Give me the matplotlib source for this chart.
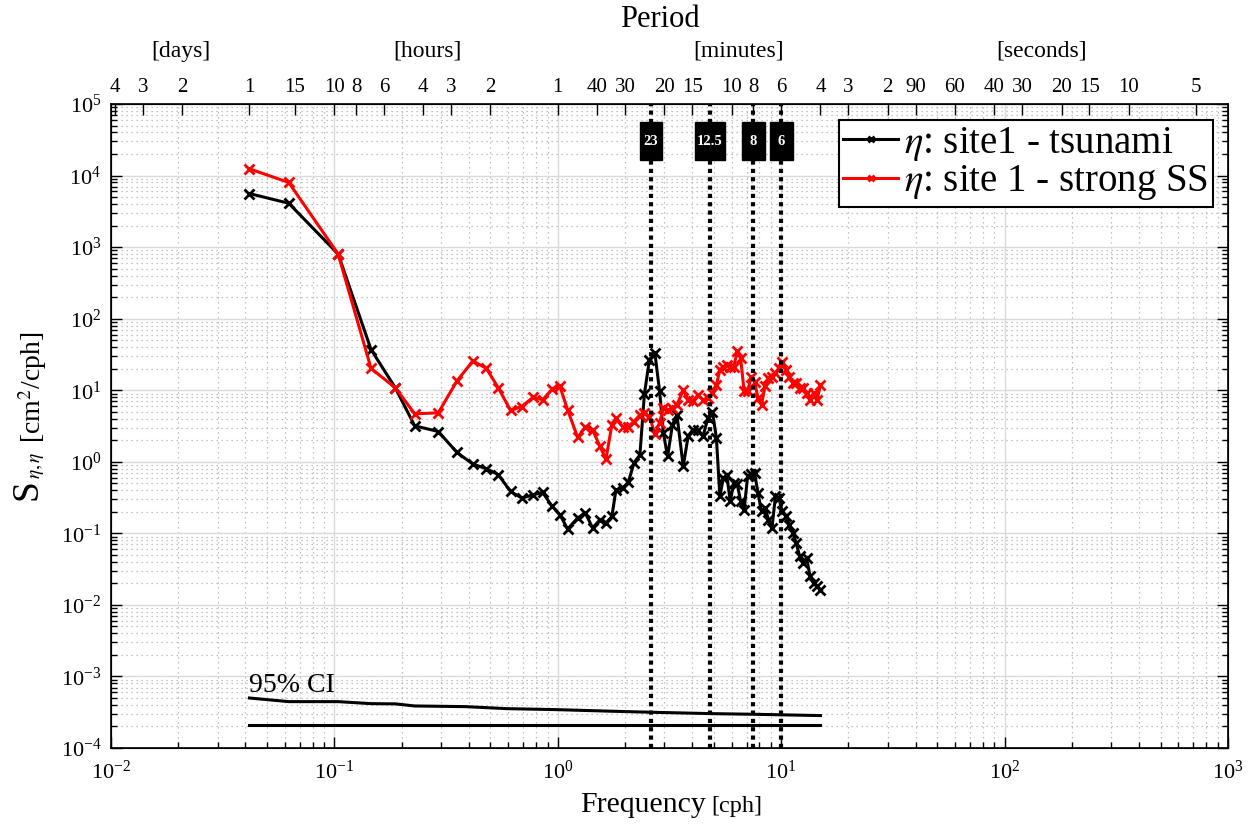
import matplotlib
matplotlib.use("Agg")
import matplotlib.pyplot as plt
import matplotlib.transforms as mtransforms
from matplotlib.patches import Rectangle
from matplotlib.ticker import LogLocator, NullLocator, NullFormatter

plt.rcParams["font.family"] = ["Liberation Serif", "DejaVu Serif"]
plt.rcParams["mathtext.fontset"] = "stix"

# frequency [cph]
freq = [0.0417, 0.0625, 0.104, 0.146, 0.1875, 0.229, 0.292, 0.354, 0.417, 0.479,
        0.542, 0.615, 0.69, 0.777, 0.856, 0.945, 1.023, 1.107, 1.228, 1.33,
        1.433, 1.545, 1.644, 1.748, 1.822, 1.952, 2.069, 2.194, 2.333, 2.444,
        2.573, 2.723, 2.858, 2.972, 3.104, 3.262, 3.417, 3.646, 3.838, 4.029,
        4.242, 4.467, 4.702, 4.926, 5.133,
        5.32, 5.51, 5.71, 5.92, 6.14, 6.36, 6.59, 6.83, 7.08, 7.34,
        7.61, 7.88, 8.17, 8.47, 8.78, 9.10, 9.43, 9.77, 10.13, 10.50,
        10.88, 11.28, 11.69, 12.11, 12.55, 13.01, 13.48, 13.97, 14.48, 15.0]

# site1 - tsunami
s_tsunami = [5600, 4100, 800, 37, 10.8, 3.18, 2.65, 1.35, 0.93, 0.80,
             0.66, 0.385, 0.311, 0.346, 0.373, 0.238, 0.182, 0.115, 0.164, 0.192,
             0.119, 0.155, 0.139, 0.172, 0.406, 0.43, 0.514, 0.96, 1.25, 8.9,
             26.6, 33, 9.6, 2.52, 1.19, 3.29, 4.53, 0.86, 2.31, 2.80,
             2.74, 2.26, 4.08, 5.04, 2.14,
             0.328, 0.59, 0.66, 0.279, 0.504, 0.493, 0.279, 0.214, 0.623, 0.68,
             0.695, 0.365, 0.202, 0.226, 0.155, 0.119, 0.328, 0.311, 0.202, 0.172,
             0.132, 0.101, 0.073, 0.0476, 0.0385, 0.0452, 0.025, 0.0202, 0.0181, 0.0163]

# site 1 - strong SS
s_storm = [12400, 8000, 800, 20.2, 10.8, 4.68, 4.83, 13.5, 25.7, 20.2,
           10.8, 5.21, 5.92, 8.01, 7.34, 10.4, 11.3, 5.33, 2.19, 3.05,
           2.80, 1.64, 1.09, 3.29, 4.08, 3.11, 3.11, 3.65, 4.53, 4.88,
           4.29, 2.44, 3.54, 5.62, 5.33, 5.62, 6.25, 10.0, 7.34, 7.0,
           8.6, 7.3, 7.76, 9.1, 11.9,
           19.3, 21.4, 22.6, 21.4, 21.4, 35, 28.1, 9.6, 9.6, 15.5,
           13.2, 7.76, 6.25, 11.3, 14.8, 15.5, 17.3, 20.6, 25, 19.3,
           15.5, 12.6, 12.6, 10.7, 10.7, 9.2, 7.34, 9.2, 7.3, 11.9]

# 95% confidence interval
ci_freq = [0.0417, 0.0625, 0.104, 0.146, 0.1875, 0.229, 0.385, 0.593, 0.986,
           1.796, 2.753, 5.0, 7.68, 15.0]
ci_upper = [5.0e-4, 4.45e-4, 4.45e-4, 4.17e-4, 4.14e-4, 3.87e-4, 3.79e-4,
            3.55e-4, 3.44e-4, 3.26e-4, 3.15e-4, 3.02e-4, 2.96e-4, 2.84e-4]
ci_low_freq = [0.0417, 15.0]
ci_lower = [2.07e-4, 2.07e-4]

# marked periods [minutes]
mark_minutes = [23, 12.5, 8, 6]
mark_labels = ["23", "12.5", "8", "6"]
mark_width_px = [22, 30, 23, 23]

# top axis period ticks
days = [4, 3, 2, 1]
hours = [15, 10, 8, 6, 4, 3, 2, 1]
minutes = [40, 30, 20, 15, 10, 8, 6, 4, 3, 2]
seconds = [90, 60, 40, 30, 20, 15, 10, 5]

fig = plt.figure(figsize=(12.55, 8.24), dpi=100)
ax = fig.add_axes([0.0884, 0.0922, 0.8900, 0.7816])
ax.set_xscale("log")
ax.set_yscale("log")
ax.set_xlim(1e-2, 1e3)
ax.set_ylim(1e-4, 1e5)

ax.xaxis.set_minor_locator(LogLocator(base=10, subs=range(2, 10), numticks=100))
ax.yaxis.set_minor_locator(LogLocator(base=10, subs=range(2, 10), numticks=100))
ax.xaxis.set_minor_formatter(NullFormatter())
ax.yaxis.set_minor_formatter(NullFormatter())
ax.yaxis.set_major_locator(LogLocator(base=10, numticks=20))
ax.grid(which="major", color="#dadada", lw=1.0, ls="-")
ax.grid(which="minor", color="#b0b0b0", lw=0.9, ls=(0, (1, 3)))
ax.set_axisbelow(True)

ax.tick_params(which="both", direction="in", top=False, right=True, width=1.0)
ax.tick_params(which="major", length=8, labelsize=16)
ax.tick_params(which="minor", length=4)
ax.tick_params(axis="x", pad=9)
ax.tick_params(axis="y", pad=7)
for sp in ax.spines.values():
    sp.set_linewidth(1.2)

ax.plot(freq, s_tsunami, color="k", lw=2.2, marker="x", ms=7, mew=2,
        label=r"$\eta$: site1 - tsunami", zorder=3)
ax.plot(freq, s_storm, color="#ff0000", lw=2.2, marker="x", ms=7, mew=2,
        label=r"$\eta$: site 1 - strong SS", zorder=3)

ax.plot(ci_freq, ci_upper, color="k", lw=2.2, zorder=3)
ax.plot(ci_low_freq, ci_lower, color="k", lw=2.2, zorder=3)
ax.text(0.0417, 6.0e-4, "95% CI", fontsize=20, ha="left", va="baseline")

trans = mtransforms.blended_transform_factory(ax.transData, ax.transAxes)
for m, lab, wpx in zip(mark_minutes, mark_labels, mark_width_px):
    f = 60.0 / m
    ax.axvline(f, color="k", lw=3, ls=(0, (1, 1)), zorder=5)
    hw = 10 ** (wpx / 2 / 223.4)
    ax.add_patch(Rectangle((f / hw, 0.913), f * hw - f / hw, 0.059,
                           transform=trans, facecolor="k", edgecolor="k", zorder=6))
    ax.text(f, 0.9425, lab, transform=trans, color="white", fontsize=10.5,
            fontweight="bold", ha="center", va="center", zorder=7)

leg = ax.legend(loc="upper right", bbox_to_anchor=(0.9866, 0.9752),
                borderaxespad=0, fontsize=28, numpoints=1, handlelength=1.41,
                handletextpad=0.15, labelspacing=0.02, borderpad=0.12,
                fancybox=False, framealpha=1, edgecolor="k")
leg.get_frame().set_linewidth(1.5)
for h in leg.legend_handles:
    h.set_markersize(5)

# top axis: period
ax2 = ax.twiny()
ax2.set_xscale("log")
ax2.set_xlim(ax.get_xlim())
top_f = ([1 / (24.0 * d) for d in days] + [1.0 / h for h in hours]
         + [60.0 / m for m in minutes] + [3600.0 / s for s in seconds])
top_lab = [str(v) for v in days + hours + minutes + seconds]
ax2.set_xticks(top_f)
ax2.set_xticklabels(top_lab)
ax2.xaxis.set_minor_locator(NullLocator())
ax2.tick_params(axis="x", direction="in", length=8, width=1.0, labelsize=15, pad=5)

fig.text(660 / 1255, 1 - 27 / 824, "Period", fontsize=22, ha="center", va="baseline")
for lab, xc in [("[days]", 181), ("[hours]", 427), ("[minutes]", 739), ("[seconds]", 1042)]:
    fig.text(xc / 1255, 1 - 57 / 824, lab, fontsize=17, ha="center", va="baseline")

fig.text(706 / 1255, 12 / 824, "Frequency", fontsize=21.5, ha="right", va="baseline")
fig.text(711 / 1255, 12 / 824, "[cph]", fontsize=17.5, ha="left", va="baseline")

# y label: S_{eta,eta} [cm^2/cph]
fig.text(27 / 1255, 324 / 824, "S", fontsize=27, rotation=90,
         ha="center", va="bottom")
fig.text(37 / 1255, 345 / 824, r"$\eta,\eta$", fontsize=14, rotation=90,
         ha="center", va="bottom")
fig.text(33 / 1255, 381 / 824, r"[cm$^2$/cph]", fontsize=20, rotation=90,
         ha="center", va="bottom")

fig.savefig("out.png", dpi=100)
